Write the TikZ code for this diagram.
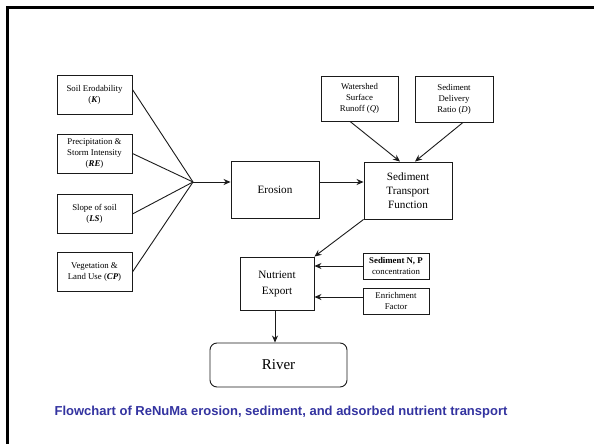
\documentclass[tikz,border=0pt]{standalone}
\usepackage{fontspec}
\setmainfont{Liberation Serif}
\newfontfamily\capfont{Liberation Sans}
\usepackage{xcolor}
\usepackage{tikz}
\usetikzlibrary{arrows.meta,positioning}
\definecolor{renumaInk}{HTML}{1A1A1A}
\definecolor{renumaBlue}{HTML}{3333A0}

\begin{document}
\begin{tikzpicture}[
  x=1pt, y=-1pt,
  font=\fontsize{8.8}{11}\selectfont,
  inbox/.style={draw=renumaInk, line width=.9pt, minimum width=75pt, minimum height=39pt, align=center, inner sep=1pt},
  bigbox/.style={draw=renumaInk, line width=.9pt, minimum width=88pt, minimum height=57pt, align=center, font=\fontsize{11.2}{14}\selectfont},
  smallbox/.style={draw=renumaInk, line width=.9pt, minimum width=66pt, minimum height=26pt, align=center, inner sep=1pt},
  feed/.style={draw=renumaInk, line width=.9pt},
  flow/.style={-{Stealth[length=7pt, width=6pt]}, line width=.9pt, draw=renumaInk},
  frame/.style={draw=black, line width=2.5pt}
]
  \useasboundingbox (0,0) rectangle (594,444);
  \draw[frame] (7.5,444) -- (7.5,7.5) -- (594,7.5);

  % factors of the soil loss equation
  \node[inbox] (soil) at (94.5,94.5) {Soil Erodability\\(\textbf{\textit{K}})};
  \node[inbox] (precip) at (94.5,153.5) {Precipitation \&\\Storm Intensity\\(\textbf{\textit{RE}})};
  \node[inbox] (slope) at (94.5,214) {Slope of soil\\(\textbf{\textit{LS}})};
  \node[inbox] (veg) at (94.5,272) {Vegetation \&\\Land Use (\textbf{\textit{CP}})};
  \coordinate (junc) at (193,182);
  \draw[feed] ([yshift=5pt]soil.east) -- (junc);
  \foreach \src in {precip,slope,veg} {
    \draw[feed] (\src.east) -- (junc);
  }

  \node[bigbox] (erosion) at (275,189.5) {Erosion};
  \node[bigbox] (stf) at (408,190.5) {Sediment\\Transport\\Function};
  \node[inbox, minimum width=77pt, minimum height=45pt] (runoff) at (359.5,98.5) {Watershed\\Surface\\Runoff (\textit{Q})};
  \node[inbox, minimum width=78pt, minimum height=46pt] (sdr) at (454,99) {Sediment\\Delivery\\Ratio (\textit{D})};

  \draw[flow] (junc) -- (erosion.west |- junc);
  \draw[flow] (erosion.east |- junc) -- (stf.west |- junc);
  \draw[flow] ([xshift=-9.5pt]runoff.south) -- ([xshift=-8pt]stf.north);
  \draw[flow] ([xshift=9pt]sdr.south) -- ([xshift=7pt]stf.north);

  % nutrient part
  \node[bigbox, minimum width=74pt, minimum height=53pt, font=\fontsize{11.2}{16}\selectfont] (export) at (277,283.5) {Nutrient\\Export};
  \node[smallbox] (sednp) at (396,266) {\textbf{Sediment N, P}\\concentration};
  \node[smallbox] (enrich) at (396,301) {Enrichment\\Factor};
  \node[draw=renumaInk, line width=.9pt, rounded corners=7pt, minimum width=137pt, minimum height=44pt, font=\fontsize{15}{18}\selectfont] (river) at (278.5,365) {River};
  \coordinate (enrichin) at ([yshift=4pt]enrich.west);
  \coordinate (exportout) at ([xshift=-2pt]export.south);

  \draw[flow] (stf.south west) -- (export.north east);
  \draw[flow] (sednp.west) -- (export.east |- sednp.west);
  \draw[flow] (enrichin) -- (export.east |- enrichin);
  \draw[flow] (exportout) -- (exportout |- river.north);

  \node[font=\capfont\bfseries\fontsize{13}{15}\selectfont, text=renumaBlue] (caption) at (281,412) {Flowchart of ReNuMa erosion, sediment, and adsorbed nutrient transport};
\end{tikzpicture}
\end{document}
